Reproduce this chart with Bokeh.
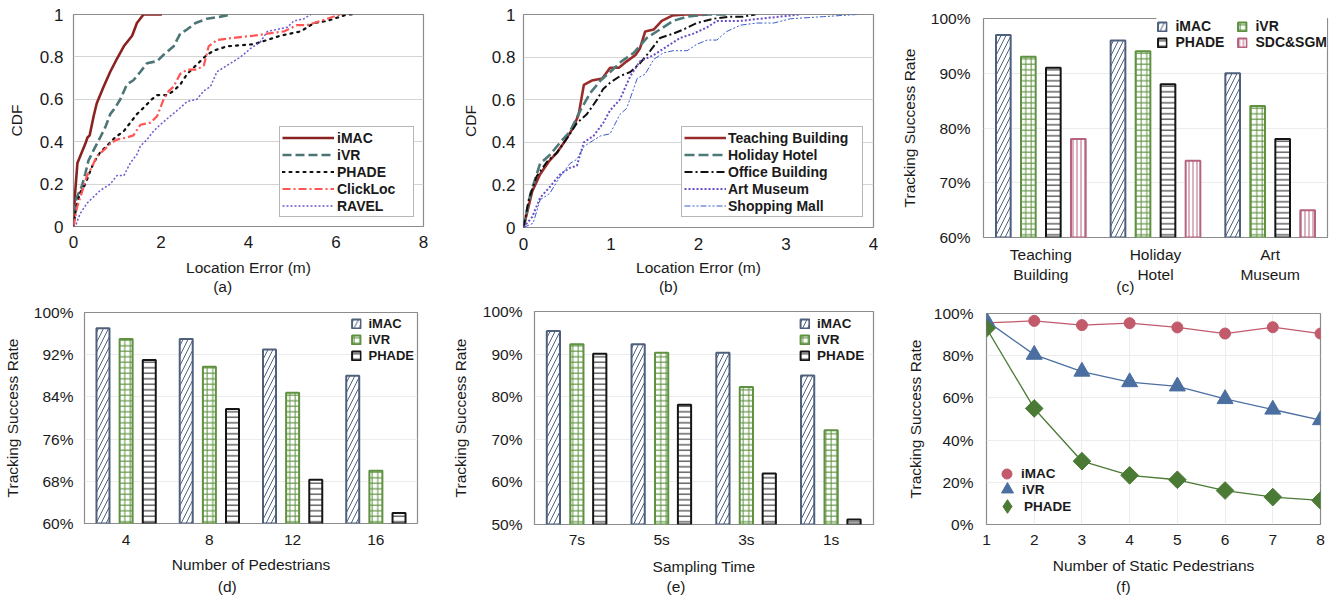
import math
from bokeh.plotting import figure
from bokeh.models import (FactorRange, Range1d, FixedTicker, NumeralTickFormatter,
                          PrintfTickFormatter, Legend, LegendItem, ColumnDataSource)
from bokeh.transform import dodge
from bokeh.layouts import column, row
from bokeh.embed import file_html
from bokeh.resources import INLINE

FONT = "Liberation Sans"
TXT = "#1a1a1a"
NB = "\u00a0"

# ---------------- (a) CDF of location error, methods ----------------
a_imac_x = [0, 0.03, 0.09, 0.19, 0.27, 0.32, 0.37, 0.46, 0.53, 0.69, 0.84, 0.99, 1.15, 1.34, 1.45, 1.6, 1.95, 2.02]
a_imac_y = [0, 0.14, 0.30, 0.35, 0.39, 0.42, 0.43, 0.52, 0.58, 0.66, 0.73, 0.79, 0.85, 0.90, 0.96, 1.0, 1.0, 1.0]
a_ivr_x = [0, 0.06, 0.19, 0.27, 0.34, 0.46, 0.61, 0.73, 0.84, 0.95, 1.07, 1.22, 1.37, 1.53, 1.68, 1.91, 2.06, 2.29, 2.44, 2.6, 2.79, 3.05, 3.36, 3.6]
a_ivr_y = [0, 0.13, 0.19, 0.25, 0.31, 0.36, 0.42, 0.47, 0.53, 0.56, 0.6, 0.67, 0.69, 0.73, 0.77, 0.78, 0.81, 0.85, 0.91, 0.93, 0.96, 0.98, 0.99, 1.0]
a_phade_x = [0, 0.06, 0.15, 0.27, 0.38, 0.46, 0.61, 0.76, 0.95, 1.15, 1.3, 1.45, 1.6, 1.79, 1.91, 2.14, 2.29, 2.44, 2.6, 2.75, 2.9, 3.05, 3.21, 3.51, 4.12, 4.43, 4.73, 5.19, 5.5, 5.8, 5.95, 6.26, 6.41]
a_phade_y = [0, 0.09, 0.16, 0.2, 0.26, 0.3, 0.35, 0.38, 0.42, 0.45, 0.49, 0.53, 0.56, 0.6, 0.62, 0.62, 0.64, 0.67, 0.72, 0.75, 0.78, 0.81, 0.83, 0.85, 0.86, 0.88, 0.9, 0.92, 0.96, 0.97, 0.98, 1.0, 1.0]
a_click_x = [0, 0.08, 0.19, 0.31, 0.42, 0.53, 0.69, 0.84, 0.99, 1.22, 1.37, 1.53, 1.76, 1.91, 2.06, 2.18, 2.29, 2.44, 2.6, 2.82, 2.98, 3.09, 3.28, 3.66, 4.12, 4.43, 4.81, 5.11, 5.34, 5.5, 5.8, 6.1]
a_click_y = [0, 0.09, 0.16, 0.24, 0.28, 0.33, 0.36, 0.39, 0.41, 0.42, 0.43, 0.48, 0.49, 0.52, 0.6, 0.64, 0.66, 0.72, 0.74, 0.74, 0.76, 0.85, 0.88, 0.89, 0.9, 0.91, 0.92, 0.95, 0.95, 0.96, 0.98, 1.0]
a_ravel_x = [0, 0.04, 0.15, 0.31, 0.46, 0.61, 0.84, 0.99, 1.15, 1.3, 1.45, 1.53, 1.68, 1.83, 1.98, 2.21, 2.44, 2.6, 2.82, 2.98, 3.13, 3.28, 3.59, 3.82, 4.05, 4.27, 4.43, 4.66, 4.89, 5.04, 5.27, 5.42]
a_ravel_y = [0, 0, 0.06, 0.11, 0.14, 0.17, 0.2, 0.24, 0.24, 0.3, 0.34, 0.38, 0.41, 0.45, 0.48, 0.52, 0.56, 0.59, 0.6, 0.64, 0.66, 0.73, 0.77, 0.8, 0.84, 0.87, 0.92, 0.93, 0.94, 0.97, 0.98, 1.0]
a_names = ["iMAC", "iVR", "PHADE", "ClickLoc", "RAVEL"]

# ---------------- (b) CDF of location error, buildings ----------------
b_teach_x = [0, 0.1, 0.19, 0.29, 0.38, 0.48, 0.57, 0.63, 0.69, 0.78, 0.9, 0.99, 1.09, 1.18, 1.28, 1.33, 1.39, 1.49, 1.58, 1.7, 1.85, 2.1]
b_teach_y = [0, 0.17, 0.25, 0.31, 0.35, 0.41, 0.47, 0.53, 0.67, 0.69, 0.7, 0.75, 0.75, 0.78, 0.81, 0.84, 0.92, 0.93, 0.97, 0.995, 1.0, 1.0]
b_hotel_x = [0, 0.08, 0.19, 0.3, 0.42, 0.53, 0.65, 0.76, 0.88, 0.99, 1.12, 1.26, 1.41, 1.56, 1.71, 1.87, 2.1, 2.36]
b_hotel_y = [0, 0.16, 0.3, 0.34, 0.4, 0.45, 0.55, 0.63, 0.69, 0.73, 0.78, 0.82, 0.89, 0.93, 0.97, 0.99, 1.0, 1.0]
b_office_x = [0, 0.06, 0.15, 0.27, 0.38, 0.5, 0.61, 0.72, 0.84, 0.91, 0.99, 1.1, 1.22, 1.33, 1.45, 1.56, 1.71, 1.83, 1.98, 2.17, 2.36, 2.51, 2.65]
b_office_y = [0, 0.13, 0.24, 0.31, 0.35, 0.42, 0.49, 0.53, 0.6, 0.65, 0.68, 0.71, 0.73, 0.77, 0.83, 0.89, 0.91, 0.93, 0.96, 0.98, 0.99, 0.99, 1.0]
b_art_x = [0, 0.1, 0.19, 0.3, 0.42, 0.53, 0.61, 0.69, 0.8, 0.91, 0.99, 1.1, 1.22, 1.33, 1.49, 1.64, 1.79, 1.94, 2.1, 2.21, 2.48, 2.7, 2.93, 3.16]
b_art_y = [0, 0.05, 0.14, 0.19, 0.25, 0.28, 0.29, 0.4, 0.43, 0.49, 0.55, 0.6, 0.71, 0.78, 0.81, 0.85, 0.89, 0.91, 0.94, 0.97, 0.97, 0.98, 0.99, 1.0]
b_mall_x = [0, 0.11, 0.19, 0.3, 0.42, 0.53, 0.61, 0.69, 0.8, 0.88, 0.99, 1.1, 1.18, 1.3, 1.39, 1.49, 1.6, 1.71, 1.87, 1.98, 2.1, 2.21, 2.32, 2.48, 2.67, 2.86, 3.05, 3.43, 3.81]
b_mall_y = [0, 0.02, 0.13, 0.16, 0.24, 0.3, 0.32, 0.38, 0.41, 0.43, 0.44, 0.53, 0.56, 0.7, 0.72, 0.79, 0.82, 0.83, 0.83, 0.86, 0.88, 0.88, 0.92, 0.95, 0.96, 0.96, 0.98, 0.99, 1.0]
b_names = ["Teaching Building", "Holiday Hotel", "Office Building", "Art Museum", "Shopping Mall"]

# ---------------- (c) tracking success per building ----------------
c_cats = ["Teaching\nBuilding", "Holiday\nHotel", "Art\nMuseum"]
c_imac = [97, 96, 90]
c_ivr = [93, 94, 84]
c_phade = [91, 88, 78]
c_sdc = [78, 74, 65]

# ---------------- (d) tracking success vs number of pedestrians ----------------
d_cats = ["4", "8", "12", "16"]
d_imac = [97, 95, 93, 88]
d_ivr = [95, 89.7, 84.8, 70]
d_phade = [91, 81.7, 68.3, 62]

# ---------------- (e) tracking success vs sampling time ----------------
e_cats = ["7s", "5s", "3s", "1s"]
e_imac = [95.4, 92.3, 90.3, 85]
e_ivr = [92.3, 90.3, 82.3, 72.1]
e_phade = [90.1, 78.1, 62, 51.2]

# ---------------- (f) tracking success vs static pedestrians ----------------
f_x = [1, 2, 3, 4, 5, 6, 7, 8]
f_imac = [95.6, 96.5, 94.5, 95.4, 93.4, 90.5, 93.5, 90.5]
f_ivr = [96.5, 80.5, 72.5, 67.5, 65.5, 59.5, 54.5, 49.5]
f_phade = [93, 55, 30, 23.3, 21.2, 16.1, 13, 11.4]

C_IMAC = "#4e607c"
C_IVR = "#5e9140"
C_PHADE = "#151515"
C_SDC = "#b5637f"


def base_fig(w, h, l, r, t, b, xr, yr, tick_size="15.5px"):
    p = figure(width=w, height=h, x_range=xr, y_range=yr, output_backend="svg",
               toolbar_location=None, min_border_left=l, min_border_right=r,
               min_border_top=t, min_border_bottom=b)
    p.outline_line_color = "#8c8c8c"
    p.outline_line_width = 1.2
    p.background_fill_color = "white"
    p.border_fill_color = "white"
    for ax in (p.xaxis[0], p.yaxis[0]):
        ax.axis_line_color = None
        ax.major_tick_line_color = None
        ax.minor_tick_line_color = None
        ax.major_tick_out = 0
        ax.major_tick_in = 0
        ax.minor_tick_out = 0
        ax.minor_tick_in = 0
        ax.major_label_text_font = FONT
        ax.major_label_text_font_size = tick_size
        ax.major_label_text_color = TXT
        ax.axis_label_text_font = FONT
        ax.axis_label_text_font_size = "15.5px"
        ax.axis_label_text_font_style = "normal"
        ax.axis_label_text_color = TXT
        ax.axis_label_text_line_height = 1.35
    p.xgrid.grid_line_color = None
    p.ygrid.grid_line_color = "#e8e8e8"
    p.ygrid.grid_line_width = 1
    return p


def xlabel(p, text, cap, pad, tick_standoff, label_standoff, lh):
    # axis title plus the panel caption "(x)" on a second line, nudged left with no-break spaces
    p.xaxis[0].axis_label = (text + "\n" if text else "") + cap + NB * pad
    p.xaxis[0].major_label_standoff = tick_standoff
    p.xaxis[0].axis_label_standoff = label_standoff
    p.xaxis[0].axis_label_text_line_height = lh


def style_legend(lg, size="14px"):
    lg.label_text_font = FONT
    lg.label_text_font_style = "bold"
    lg.label_text_font_size = size
    lg.label_text_color = TXT
    lg.background_fill_alpha = 1
    lg.spacing = 0


# ================= (a) =================
pa = base_fig(448, 298, 73, 25, 14, 71, Range1d(0, 8), Range1d(0, 1), tick_size="17px")
pa.xaxis[0].ticker = FixedTicker(ticks=[0, 2, 4, 6, 8])
pa.yaxis[0].ticker = FixedTicker(ticks=[0, 0.2, 0.4, 0.6, 0.8, 1])
pa.yaxis[0].formatter = NumeralTickFormatter(format="0.[0]")
pa.ygrid.grid_line_color = "#d4d4d4"
xlabel(pa, "Location Error (m)", "(a)", 12, 9, 8, 1.16)
pa.yaxis[0].axis_label = "CDF"
pa.yaxis[0].major_label_standoff = 10
pa.yaxis[0].axis_label_standoff = 12
ra = [
    pa.line(a_imac_x, a_imac_y, line_color="#8b2222", line_width=2.6),
    pa.line(a_ivr_x, a_ivr_y, line_color="#4d7576", line_width=2.6, line_dash="9 4"),
    pa.line(a_phade_x, a_phade_y, line_color="#111111", line_width=2.2, line_dash="2 5", line_cap="round"),
    pa.line(a_click_x, a_click_y, line_color="#ff5555", line_width=2.2, line_dash="8 3 2 3"),
    pa.line(a_ravel_x, a_ravel_y, line_color="#7255d0", line_width=1.5, line_dash="2 2"),
]
lga = Legend(items=[LegendItem(label=n, renderers=[r]) for n, r in zip(a_names, ra)],
             location="bottom_right", margin=9, padding=2, glyph_width=52, glyph_height=17,
             label_height=17, label_width=74, label_standoff=3,
             border_line_color="#707070", border_line_width=1.2)
style_legend(lga, "14px")
pa.add_layout(lga)

# ================= (b) =================
pb = base_fig(442, 298, 75, 17, 14, 71, Range1d(0, 4), Range1d(0, 1), tick_size="17px")
pb.xaxis[0].ticker = FixedTicker(ticks=[0, 1, 2, 3, 4])
pb.yaxis[0].ticker = FixedTicker(ticks=[0, 0.2, 0.4, 0.6, 0.8, 1])
pb.yaxis[0].formatter = NumeralTickFormatter(format="0.[0]")
pb.ygrid.grid_line_color = "#d4d4d4"
xlabel(pb, "Location Error (m)", "(b)", 14, 10, 6, 1.16)
pb.yaxis[0].axis_label = "CDF"
pb.yaxis[0].major_label_standoff = 8
pb.yaxis[0].axis_label_standoff = 10
rb = [
    pb.line(b_teach_x, b_teach_y, line_color="#9a2b2b", line_width=2.6),
    pb.line(b_hotel_x, b_hotel_y, line_color="#4d7a78", line_width=2.6, line_dash="10 4"),
    pb.line(b_office_x, b_office_y, line_color="#111111", line_width=2, line_dash="8 3 2 3"),
    pb.line(b_art_x, b_art_y, line_color="#6a4fc8", line_width=2, line_dash="2 2"),
    pb.line(b_mall_x, b_mall_y, line_color="#3a5ccc", line_width=1, line_dash="6 2 2 2 2 2"),
]
lgb = Legend(items=[LegendItem(label=n, renderers=[r]) for n, r in zip(b_names, rb)],
             location="bottom_right", margin=10, padding=2, glyph_width=42, glyph_height=17,
             label_height=17, label_width=132, label_standoff=2,
             border_line_color="#707070", border_line_width=1.2)
style_legend(lgb, "14px")
pb.add_layout(lgb)


def bar_fig(w, h, l, r, t, b, cats, y0, y1, yticks):
    p = base_fig(w, h, l, r, t, b, FactorRange(factors=cats), Range1d(y0, y1))
    p.yaxis[0].ticker = FixedTicker(ticks=yticks)
    p.yaxis[0].formatter = PrintfTickFormatter(format="%d%%")
    p.yaxis[0].axis_label = "Tracking Success Rate"
    p.ygrid.grid_line_color = "#ececec"
    return p


def add_bars(p, cats, vals, off, width, color, pattern, scale, bottom):
    src = ColumnDataSource(dict(cat=cats, v=vals))
    return p.vbar(x=dodge("cat", off, range=p.x_range), top="v", bottom=bottom, width=width,
                  source=src, fill_color="white", line_color=color, line_width=2,
                  hatch_pattern=pattern, hatch_color=color, hatch_weight=1, hatch_scale=scale)


# ================= (c) =================
pc = bar_fig(448, 298, 93, 11, 18, 61, c_cats, 60, 100, [60, 70, 80, 90, 100])
pc.yaxis[0].major_label_standoff = 13
pc.yaxis[0].axis_label_standoff = 10
pc.xaxis[0].major_label_text_line_height = 1.2
xlabel(pc, "", "(c)", 14, 8, -8, 1.0)
rc = [
    add_bars(pc, c_cats, c_imac, -0.327, 0.128, C_IMAC, "/", 10, 60),
    add_bars(pc, c_cats, c_ivr, -0.109, 0.128, C_IVR, "+", 5.5, 60),
    add_bars(pc, c_cats, c_phade, 0.109, 0.128, C_PHADE, "-", 5.5, 60),
    add_bars(pc, c_cats, c_sdc, 0.327, 0.128, C_SDC, "|", 4, 60),
]
c_names = ["iMAC", "iVR", "PHADE", "SDC&SGM"]
c_order = [0, 2, 1, 3]  # legend fills column by column
lgc = Legend(items=[LegendItem(label=c_names[i], renderers=[rc[i]]) for i in c_order],
             location="top_right", ncols=2, margin=0, padding=2, glyph_width=11, glyph_height=11,
             label_height=14, label_width=61, label_standoff=8, border_line_color=None)
style_legend(lgc, "14px")
pc.add_layout(lgc)

# ================= (d) =================
pd_ = bar_fig(448, 299, 83, 31, 14, 74, d_cats, 60, 100, [60, 68, 76, 84, 92, 100])
xlabel(pd_, "Number of Pedestrians", "(d)", 11, 11, 8, 1.3)
pd_.yaxis[0].major_label_standoff = 11
pd_.yaxis[0].axis_label_standoff = 10
rd = [
    add_bars(pd_, d_cats, d_imac, -0.278, 0.156, C_IMAC, "/", 10, 60),
    add_bars(pd_, d_cats, d_ivr, 0.0, 0.156, C_IVR, "+", 5.5, 60),
    add_bars(pd_, d_cats, d_phade, 0.278, 0.156, C_PHADE, "-", 5.5, 60),
]
lgd = Legend(items=[LegendItem(label=n, renderers=[r]) for n, r in zip(["iMAC", "iVR", "PHADE"], rd)],
             location="top_right", margin=3, padding=1, glyph_width=11, glyph_height=11,
             label_height=16, label_standoff=7, border_line_color=None)
style_legend(lgd, "13px")
pd_.add_layout(lgd)

# ================= (e) =================
pe = bar_fig(442, 299, 83, 17, 13, 72, e_cats, 50, 100, [50, 60, 70, 80, 90, 100])
xlabel(pe, "Sampling Time", "(e)", 13, 6, 7, 1.2)
pe.yaxis[0].major_label_standoff = 12
pe.yaxis[0].axis_label_standoff = 11
re_ = [
    add_bars(pe, e_cats, e_imac, -0.277, 0.156, C_IMAC, "/", 10, 50),
    add_bars(pe, e_cats, e_ivr, 0.0, 0.156, C_IVR, "+", 5.5, 50),
    add_bars(pe, e_cats, e_phade, 0.27, 0.156, C_PHADE, "-", 5.5, 50),
]
lge = Legend(items=[LegendItem(label=n, renderers=[r]) for n, r in zip(["iMAC", "iVR", "PHADE"], re_)],
             location="top_right", margin=4, padding=0, glyph_width=11, glyph_height=11,
             label_height=16, label_width=52, label_standoff=7, border_line_color=None)
style_legend(lge, "13.5px")
pe.add_layout(lge)

# ================= (f) =================
pf = base_fig(448, 299, 96, 18, 15, 73, Range1d(1, 8), Range1d(0, 100))
pf.xaxis[0].ticker = FixedTicker(ticks=f_x)
pf.yaxis[0].ticker = FixedTicker(ticks=[0, 20, 40, 60, 80, 100])
pf.yaxis[0].formatter = PrintfTickFormatter(format="%d%%")
xlabel(pf, "Number of Static Pedestrians", "(f)", 14, 10, 9, 1.25)
pf.yaxis[0].axis_label = "Tracking Success Rate"
pf.xgrid.grid_line_color = "#ececec"
pf.ygrid.grid_line_color = "#ececec"
pf.yaxis[0].major_label_standoff = 13
pf.yaxis[0].axis_label_standoff = 7
pf.line(f_x, f_imac, line_color="#c25a6b", line_width=1.3)
pf.line(f_x, f_ivr, line_color="#4a6fa0", line_width=1.3)
pf.line(f_x, f_phade, line_color="#4b7a35", line_width=1.3)
m_imac = pf.scatter(f_x, f_imac, marker="circle", size=11, fill_color="#c25a6b", line_color="#c25a6b")
m_ivr = pf.scatter(f_x, f_ivr, marker="triangle", size=16, fill_color="#4a6fa0", line_color="#4a6fa0")
pf.scatter(f_x, f_phade, marker="square", angle=math.pi / 4, size=12.5, fill_color="#4b7a35", line_color="#4b7a35")
# hidden twin of the PHADE series so that its legend entry shows an upright diamond
m_phade_leg = pf.scatter(f_x, f_phade, marker="diamond", fill_color="#4b7a35", line_color="#4b7a35", visible=False)
# (name, renderer, glyph box, x offset, y offset, label standoff)
f_leg = [("iMAC", m_imac, 25, 8, 38, 2), ("iVR", m_ivr, 30, 6, 20, 0), ("PHADE", m_phade_leg, 34, 4, 1, 0)]
for name, rend, gsz, xoff, yoff, stand in f_leg:
    lg = Legend(items=[LegendItem(label=name, renderers=[rend])], location=(xoff, yoff),
                margin=0, padding=0, glyph_width=gsz, glyph_height=gsz, label_height=gsz,
                label_standoff=stand, border_line_color=None)
    style_legend(lg, "13.5px")
    lg.background_fill_alpha = 0
    pf.add_layout(lg)

layout = column(row(column(pa), column(pb), column(pc)),
                row(column(pd_), column(pe), column(pf)))
open("out.html", "w").write(file_html(layout, INLINE))
